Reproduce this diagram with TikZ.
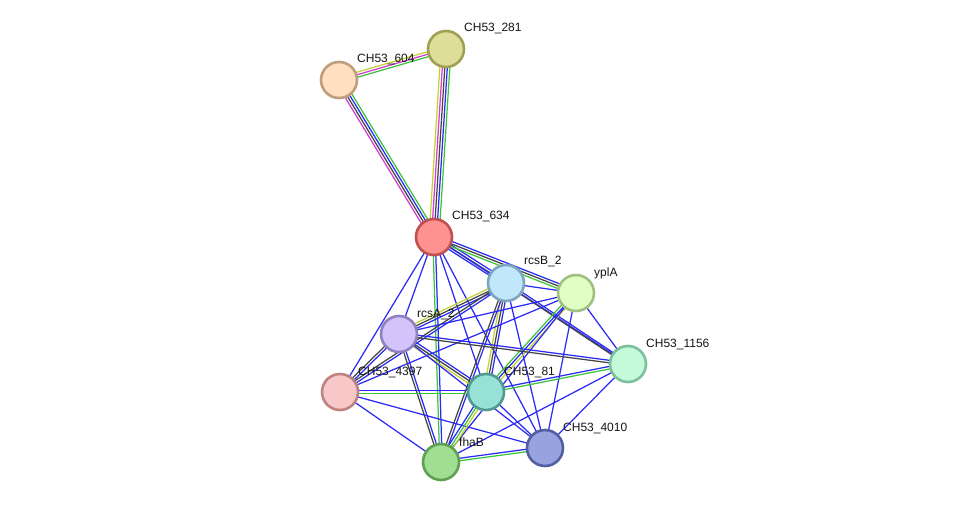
\documentclass[tikz,border=0pt]{standalone}
\usepackage{fontspec}
\setmainfont{Liberation Sans}
\usetikzlibrary{calc,backgrounds}
\definecolor{eg}{HTML}{3DC43D}
\definecolor{eb}{HTML}{2B2BF5}
\definecolor{ek}{HTML}{454545}
\definecolor{em}{HTML}{D23CD2}
\definecolor{ey}{HTML}{C2D232}
\tikzset{
  prot/.style={circle,minimum size=36pt,inner sep=0pt,line width=2.6pt},
  lab/.style={anchor=west,inner sep=0pt,font=\fontsize{12pt}{14pt}\selectfont,text=black!92},
  ecol/.style={line width=1.25pt},
}
\newcommand\sedge[3]{%
  \gdef\nn{0}\foreach \c in {#3}{\xdef\nn{\the\numexpr\nn+1\relax}}%
  \foreach \c [count=\i] in {#3}{%
    \pgfmathsetmacro\off{(\i-(\nn+1)/2)*2.5}%
    \draw[ecol,draw=\c] ($(#1)!\off pt!90:(#2)$) -- ($(#2)!\off pt!-90:(#1)$);
  }}
\begin{document}
\begin{tikzpicture}[x=1pt,y=-1pt]
\useasboundingbox (0,0) rectangle (976,508);
\node[prot,fill={rgb,255:red,222;green,222;blue,152},draw={rgb,255:red,160;green,160;blue,84}] (n281) at (446,49) {};
\node[prot,fill={rgb,255:red,255;green,223;blue,192},draw={rgb,255:red,190;green,158;blue,125}] (n604) at (339,80) {};
\node[prot,fill={rgb,255:red,255;green,145;blue,145},draw={rgb,255:red,190;green,80;blue,80}] (n634) at (434,237) {};
\node[prot,fill={rgb,255:red,192;green,232;blue,250},draw={rgb,255:red,125;green,165;blue,190}] (rcsB) at (506,283) {};
\node[prot,fill={rgb,255:red,225;green,255;blue,195},draw={rgb,255:red,160;green,192;blue,128}] (yplA) at (576,293) {};
\node[prot,fill={rgb,255:red,210;green,195;blue,250},draw={rgb,255:red,145;green,128;blue,190}] (rcsA) at (399,334) {};
\node[prot,fill={rgb,255:red,195;green,250;blue,218},draw={rgb,255:red,125;green,190;blue,155}] (n1156) at (628,364) {};
\node[prot,fill={rgb,255:red,248;green,200;blue,200},draw={rgb,255:red,190;green,130;blue,130}] (n4397) at (340,392) {};
\node[prot,fill={rgb,255:red,152;green,225;blue,215},draw={rgb,255:red,80;green,155;blue,145}] (n81) at (486,392) {};
\node[prot,fill={rgb,255:red,152;green,162;blue,222},draw={rgb,255:red,82;green,95;blue,160}] (n4010) at (545,448) {};
\node[prot,fill={rgb,255:red,160;green,222;blue,145},draw={rgb,255:red,95;green,160;blue,82}] (fhaB) at (441,462) {};
\node[lab] (l281) at (464,29) {CH53\_281};
\node[lab] (l604) at (357,60) {CH53\_604};
\node[lab] (l634) at (452,217) {CH53\_634};
\node[lab] (lrcsB) at (524,262) {rcsB\_2};
\node[lab] (lyplA) at (594,273) {yplA};
\node[lab] (lrcsA) at (417,314) {rcsA\_2};
\node[lab] (l1156) at (646,344) {CH53\_1156};
\node[lab] (l4397) at (358,372) {CH53\_4397};
\node[lab] (l81) at (504,372) {CH53\_81};
\node[lab] (l4010) at (563,428) {CH53\_4010};
\node[lab] (lfhaB) at (459,442) {fhaB};
\begin{scope}[on background layer]
\sedge{n604}{n281}{eg,em,ey}
\sedge{n604}{n634}{em,ek,eb,eg}
\sedge{n281}{n634}{ey,em,ek,eb,eg}
\sedge{n634}{rcsB}{eb,ek,eb}
\sedge{n634}{yplA}{eg,ek,eb}
\sedge{n634}{rcsA}{eb}
\sedge{n634}{n4397}{eb}
\sedge{n634}{n81}{eb}
\sedge{n634}{fhaB}{eg,eb}
\sedge{n634}{n4010}{eb}
\sedge{n634}{n1156}{eb}
\sedge{rcsB}{yplA}{eb}
\sedge{rcsB}{n1156}{ek,eb}
\sedge{rcsB}{rcsA}{ey,ek,eb}
\sedge{rcsB}{n4397}{ek,eb}
\sedge{rcsB}{n81}{ey,ek,eb}
\sedge{rcsB}{fhaB}{ek,eb}
\sedge{rcsB}{n4010}{eb}
\sedge{yplA}{rcsA}{eb}
\sedge{yplA}{n4397}{eb}
\sedge{yplA}{n81}{eg,eb,ey}
\sedge{yplA}{fhaB}{eb}
\sedge{yplA}{n1156}{eb}
\sedge{yplA}{n4010}{eb}
\sedge{rcsA}{n1156}{ek,eb}
\sedge{rcsA}{n4397}{ek,eb}
\sedge{rcsA}{n81}{ey,ek,eb}
\sedge{rcsA}{fhaB}{ek,eb}
\sedge{rcsA}{n4010}{eb}
\sedge{n4397}{n81}{eg,eb}
\sedge{n4397}{fhaB}{eb}
\sedge{n4397}{n4010}{eb}
\sedge{n81}{n1156}{eg,eb}
\sedge{n81}{n4010}{eb}
\sedge{n81}{fhaB}{eb,eg,ey}
\sedge{fhaB}{n4010}{eg,eb}
\sedge{fhaB}{n1156}{eb}
\sedge{n4010}{n1156}{eb}
\end{scope}
\end{tikzpicture}
\end{document}
